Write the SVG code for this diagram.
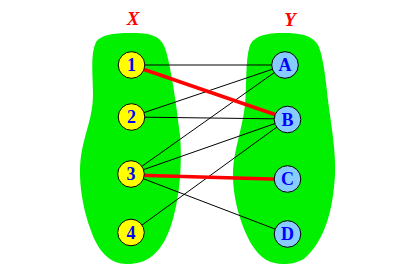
<svg xmlns="http://www.w3.org/2000/svg" width="417" height="270" viewBox="0 0 417 270">
<style>
.blob{fill:#00F000;stroke:none}
.set{font-family:"Liberation Serif",serif;font-weight:bold;font-style:italic;font-size:19px;fill:#FF0000;text-anchor:middle}
.x circle{fill:#FFFF00;stroke:#000;stroke-width:1}
.y circle{fill:#88CCFF;stroke:#000;stroke-width:1}
.lbl{font-family:"Liberation Serif",serif;font-weight:bold;font-size:18px;fill:#0000FF;text-anchor:middle}
.e{stroke:#000;stroke-width:1;fill:none}
.r{stroke:#FF0000;stroke-width:3.5;fill:none}
</style>
<rect width="417" height="270" fill="#FFFFFF"/>
<g id="blobs">
<path class="blob" d="M130,33 C150,33 160,35 165,48 C170,62 176,100 180,135 C183,170 178,215 165,240 C155,258 143,264 127,264 C110,264 98,252 90,228 C82,205 77,175 82,150 C86,130 93,115 93,95 C93,75 90,55 96,42 C101,35 112,33 130,33 Z"/>
<path class="blob" d="M283,33 C300,33 312,35 318,45 C323,55 326,80 328,100 C331,125 336,150 335,175 C333,210 325,240 305,258 C298,263 290,264 283,264 C270,264 260,258 252,245 C240,225 232,195 233,170 C234,150 242,130 245,105 C247,85 245,60 250,45 C255,35 268,33 283,33 Z"/>
</g>
<text class="set" x="133" y="25">X</text>
<text class="set" x="290" y="26">Y</text>
<g id="connectors">
<line class="e" x1="131" y1="65" x2="285" y2="65"/>
<line class="e" x1="131" y1="117" x2="285" y2="65"/>
<line class="e" x1="131" y1="117" x2="288" y2="119"/>
<line class="e" x1="131" y1="174" x2="285" y2="65"/>
<line class="e" x1="131" y1="174" x2="288" y2="119"/>
<line class="e" x1="131" y1="174" x2="288" y2="234"/>
<line class="e" x1="131" y1="233" x2="288" y2="119"/>
<line class="r" x1="131" y1="65" x2="288" y2="119"/>
<line class="r" x1="131" y1="175" x2="288" y2="179.5"/>
</g>
<g id="n1" class="x"><circle cx="131.5" cy="65" r="13.3"/><text class="lbl" x="131.5" y="71">1</text></g>
<g id="n2" class="x"><circle cx="131.5" cy="117" r="13.3"/><text class="lbl" x="131.5" y="123">2</text></g>
<g id="n3" class="x"><circle cx="131" cy="174" r="13.3"/><text class="lbl" x="131" y="180">3</text></g>
<g id="n4" class="x"><circle cx="131" cy="232.5" r="13.3"/><text class="lbl" x="131" y="238.5">4</text></g>
<g id="nA" class="y"><circle cx="285" cy="65" r="13.3"/><text class="lbl" x="285" y="71">A</text></g>
<g id="nB" class="y"><circle cx="287.5" cy="119.5" r="13.3"/><text class="lbl" x="287.5" y="125.5">B</text></g>
<g id="nC" class="y"><circle cx="287.5" cy="179" r="13.3"/><text class="lbl" x="287.5" y="185">C</text></g>
<g id="nD" class="y"><circle cx="287.5" cy="234" r="13.3"/><text class="lbl" x="287.5" y="240">D</text></g>
</svg>
